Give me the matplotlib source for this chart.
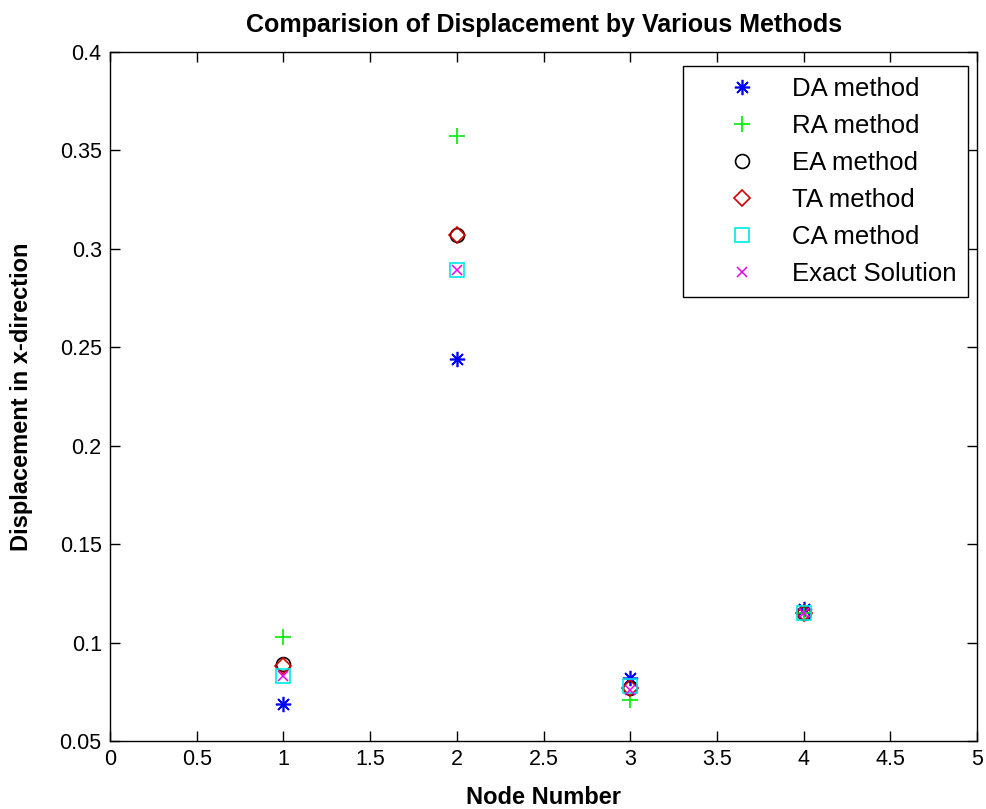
import matplotlib
matplotlib.use("Agg")
import matplotlib.pyplot as plt
import numpy as np

nodes = [1, 2, 3, 4]
da = [0.069, 0.244, 0.082, 0.117]
ra = [0.103, 0.357, 0.071, 0.115]
ea = [0.089, 0.307, 0.077, 0.115]
ta = [0.088, 0.307, 0.077, 0.115]
ca = [0.083, 0.289, 0.078, 0.115]
exact = [0.083, 0.289, 0.076, 0.115]

labels = ["DA method", "RA method", "EA method", "TA method", "CA method", "Exact Solution"]
xtick_labels = ['0', '0.5', '1', '1.5', '2', '2.5', '3', '3.5', '4', '4.5', '5']
ytick_labels = ['0.05', '0.1', '0.15', '0.2', '0.25', '0.3', '0.35', '0.4']

plt.rcParams['font.family'] = ['Liberation Sans', 'DejaVu Sans']

fig = plt.figure(figsize=(9.87, 8.09), dpi=100)
ax = fig.add_axes([0.1115, 0.0840, 0.8785, 0.8520])

ax.plot(nodes, da, linestyle='none', marker=(8, 2, 0), color='#0000ff', ms=11, mew=1.2, label=labels[0])
ax.plot(nodes, ra, linestyle='none', marker='+', color='#00ee00', ms=12, mew=1.2, label=labels[1])
ax.plot(nodes, ea, linestyle='none', marker='o', mfc='none', mec='black', ms=10, mew=1.2, label=labels[2])
ax.plot(nodes, ta, linestyle='none', marker='D', mfc='none', mec='#d00000', ms=8.5, mew=1.2, label=labels[3])
ax.plot(nodes, ca, linestyle='none', marker='s', mfc='none', mec='#00e8e8', ms=10, mew=1.2, label=labels[4])
ax.plot(nodes, exact, linestyle='none', marker='x', color='#ee00ee', ms=7, mew=1.1, label=labels[5])

ax.set_xlim(0, 5)
ax.set_ylim(0.05, 0.4)
ax.set_xticks(np.arange(0, 5.01, 0.5))
ax.set_xticklabels(xtick_labels)
ax.set_yticks(np.arange(0.05, 0.401, 0.05))
ax.set_yticklabels(ytick_labels)
ax.tick_params(direction='in', top=True, right=True, length=7, width=1, labelsize=15.5, pad=6)
ax.tick_params(axis='x', pad=6)
for s in ax.spines.values():
    s.set_linewidth(1.0)

ax.set_title("Comparision of Displacement by Various Methods", fontsize=18, fontweight='bold', pad=14)
ax.set_xlabel("Node Number", fontsize=17, fontweight='bold', labelpad=11)
ax.set_ylabel("Displacement in x-direction", fontsize=17, fontweight='bold', labelpad=19)

leg = ax.legend(loc='upper right', bbox_to_anchor=(0.9896, 0.9797), fontsize=18.5, frameon=True,
                fancybox=False, edgecolor='black', framealpha=1,
                borderaxespad=0.0, handlelength=3.7, handletextpad=0.1, labelspacing=0.5,
                borderpad=0.45)
leg.get_frame().set_linewidth(1.0)

fig.savefig("out.png", dpi=100)
